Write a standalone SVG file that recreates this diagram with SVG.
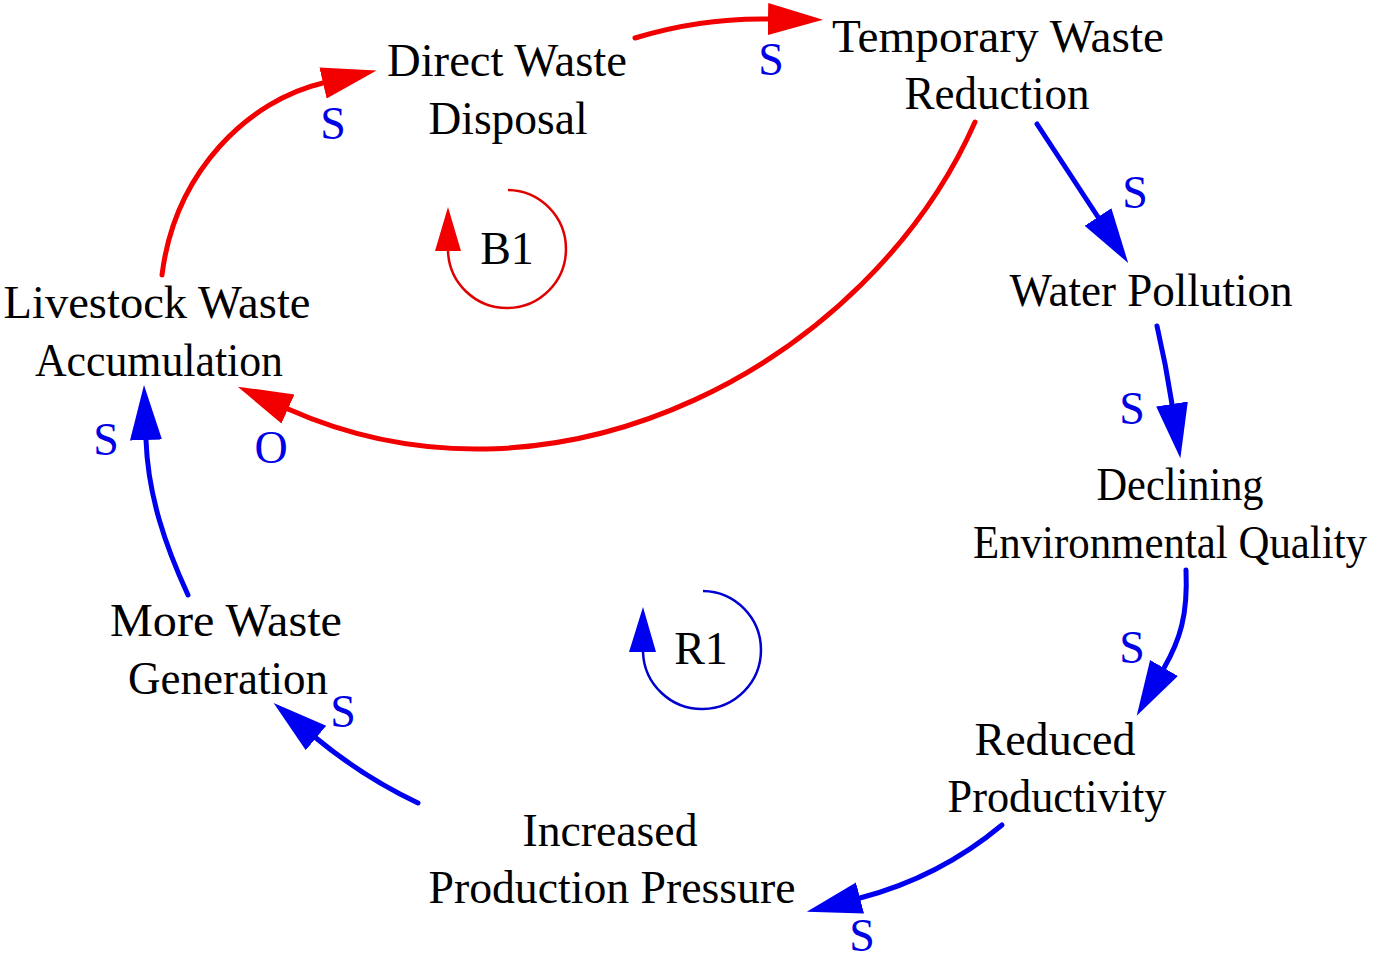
<svg xmlns="http://www.w3.org/2000/svg" width="1382" height="959" viewBox="0 0 1382 959">
<style>
.t{font-family:"Liberation Serif","Times New Roman",serif;font-size:46px;fill:#000;text-anchor:middle}
.p{font-family:"Liberation Serif","Times New Roman",serif;font-size:46px;fill:#0000e6;text-anchor:middle}
.r{fill:none;stroke:#f20000;stroke-width:5;stroke-linecap:round}
.b{fill:none;stroke:#0000f0;stroke-width:5;stroke-linecap:round}
.lr{fill:none;stroke:#e00000;stroke-width:2.5}
.lb{fill:none;stroke:#0000d0;stroke-width:2.5}
</style>
<defs>
<marker id="ar" markerUnits="userSpaceOnUse" orient="auto" markerWidth="60" markerHeight="40" refX="0" refY="16" viewBox="0 0 60 32"><path d="M0,0 L55,16 L0,32 z" fill="#f20000"/></marker>
<marker id="ab" markerUnits="userSpaceOnUse" orient="auto" markerWidth="60" markerHeight="40" refX="0" refY="16" viewBox="0 0 60 32"><path d="M0,0 L55,16 L0,32 z" fill="#0000f0"/></marker>
</defs>
<g id="connectors">
<path class="r" d="M162,275 C175,170 250,100 323,83" marker-end="url(#ar)"/>
<path class="r" d="M635,38 Q700,18 768,19" marker-end="url(#ar)"/>
<path class="r" d="M975,122 C870,360 560,530 288,409" marker-end="url(#ar)"/>
<path class="b" d="M1037,124 L1098,217" marker-end="url(#ab)"/>
<path class="b" d="M1157,326 Q1166,365 1172,404" marker-end="url(#ab)"/>
<path class="b" d="M1186,570 C1188,615 1180,640 1164,668" marker-end="url(#ab)"/>
<path class="b" d="M1002,825 C960,860 910,885 860,898" marker-end="url(#ab)"/>
<path class="b" d="M418,803 C380,785 345,762 316,738" marker-end="url(#ab)"/>
<path class="b" d="M188,595 C165,545 148,495 146,440" marker-end="url(#ab)"/>
<text class="p" x="333" y="139">S</text>
<text class="p" x="771" y="75">S</text>
<text class="p" x="1135" y="208">S</text>
<text class="p" x="1132" y="424">S</text>
<text class="p" x="1132" y="663">S</text>
<text class="p" x="862" y="951">S</text>
<text class="p" x="343" y="727">S</text>
<text class="p" x="106" y="455">S</text>
<text class="p" x="271" y="463">O</text>
</g>
<g id="loop-B1">
<path class="lr" d="M508,190 A59,59 0 1 1 448,251"/>
<polygon points="448,207 435,251 461,251" fill="#f20000"/>
<text class="t" x="507" y="264">B1</text>
</g>
<g id="loop-R1">
<path class="lb" d="M703,591 A59,59 0 1 1 643,652"/>
<polygon points="643,607 629,652 656,652" fill="#0000f0"/>
<text class="t" x="701" y="664">R1</text>
</g>
<g id="node-direct"><text class="t" x="507" y="76" textLength="240" lengthAdjust="spacingAndGlyphs">Direct Waste</text><text class="t" x="508" y="134" textLength="159" lengthAdjust="spacingAndGlyphs">Disposal</text></g>
<g id="node-temporary"><text class="t" x="998" y="52" textLength="332" lengthAdjust="spacingAndGlyphs">Temporary Waste</text><text class="t" x="997" y="109" textLength="185" lengthAdjust="spacingAndGlyphs">Reduction</text></g>
<g id="node-water"><text class="t" x="1151" y="306" textLength="283" lengthAdjust="spacingAndGlyphs">Water Pollution</text></g>
<g id="node-declining"><text class="t" x="1180" y="500" textLength="167" lengthAdjust="spacingAndGlyphs">Declining</text><text class="t" x="1170" y="558" textLength="394" lengthAdjust="spacingAndGlyphs">Environmental Quality</text></g>
<g id="node-reduced"><text class="t" x="1055" y="755" textLength="161" lengthAdjust="spacingAndGlyphs">Reduced</text><text class="t" x="1057" y="812" textLength="219" lengthAdjust="spacingAndGlyphs">Productivity</text></g>
<g id="node-increased"><text class="t" x="610" y="846" textLength="175" lengthAdjust="spacingAndGlyphs">Increased</text><text class="t" x="612" y="903" textLength="367" lengthAdjust="spacingAndGlyphs">Production Pressure</text></g>
<g id="node-more"><text class="t" x="226" y="636" textLength="232" lengthAdjust="spacingAndGlyphs">More Waste</text><text class="t" x="228" y="694" textLength="200" lengthAdjust="spacingAndGlyphs">Generation</text></g>
<g id="node-livestock"><text class="t" x="157" y="318" textLength="307" lengthAdjust="spacingAndGlyphs">Livestock Waste</text><text class="t" x="159" y="376" textLength="248" lengthAdjust="spacingAndGlyphs">Accumulation</text></g>
</svg>
